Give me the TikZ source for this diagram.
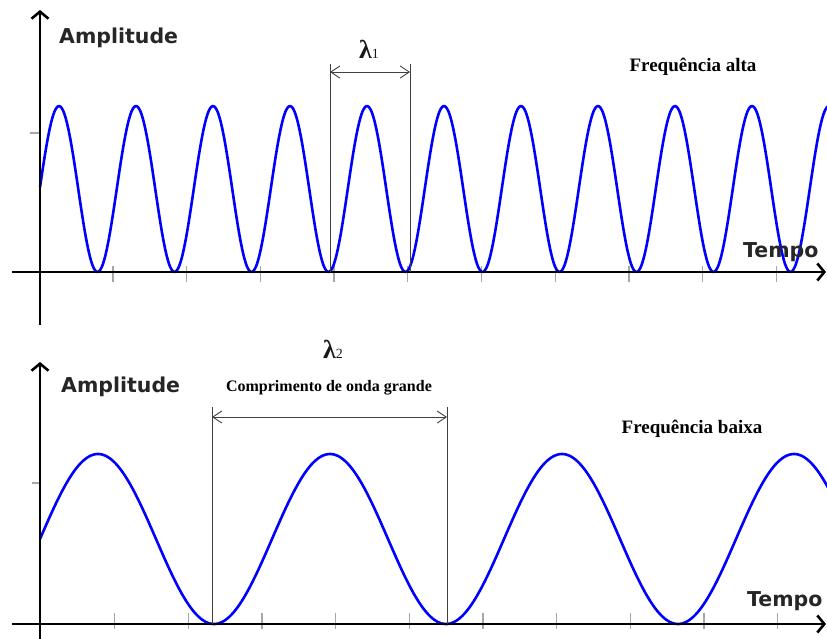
\documentclass[tikz,border=0pt]{standalone}
\usepackage{fontspec}
\setmainfont{Liberation Serif}
\newfontfamily\axisfont{DejaVu Sans}
\usetikzlibrary{arrows.meta}
\begin{document}
\begin{tikzpicture}[x=1pt,y=-1pt,
  axis/.style={line width=2.6pt, black, line cap=butt, -{Straight Barb[length=7pt,width=17pt]}},
  tickmark/.style={black!35, line width=1.3pt},
  wave/.style={blue, line width=2.6pt, line join=round},
  dimline/.style={black!75, line width=0.9pt},
  dimarrow/.style={black!75, line width=0.9pt, {Straight Barb[length=9pt,width=12pt]}-{Straight Barb[length=9pt,width=12pt]}},
  axlabel/.style={font=\axisfont\bfseries\fontsize{20.5}{25}\selectfont, text=black!85, inner sep=0pt, anchor=base west},
  caption/.style={font=\bfseries\fontsize{19}{23}\selectfont, inner sep=0pt, anchor=base},
  captionsmall/.style={font=\bfseries\fontsize{16}{20}\selectfont, inner sep=0pt, anchor=base},
  lambdalabel/.style={font=\fontsize{26}{30}\selectfont, text=black!90, inner sep=0pt, anchor=base}]
\useasboundingbox (0,0) rectangle (827,638);
\clip (0,0) rectangle (827,638);

% ---------------- top graph ----------------
\coordinate (tyb) at (40,325);
\coordinate (tyt) at (40,10);
\coordinate (txl) at (12,272);
\coordinate (txr) at (826,272);
\foreach \i in {0,...,9} {
  \draw[tickmark] ({113+73.7*\i},266) -- ({113+73.7*\i},282);
}
\draw[tickmark] (30,133) -- (40,133);
\draw[wave] plot[domain=40:830, samples=500, smooth] (\x, {189 - 83*cos((\x-59)/77*360)});
\draw[axis] (txl) -- (txr);
\draw[axis] (tyb) -- (tyt);

\node[axlabel] (amp1) at (59,43) {Amplitude};
\node[axlabel] (tempo1) at (743,257) {Tempo};
\node[caption] (fa) at (693,71) {Frequência alta};

\coordinate (l1at) at (330,64);
\coordinate (l1ab) at (330,272);
\coordinate (l1bt) at (410,64);
\coordinate (l1bb) at (410,272);
\coordinate (d1a) at (330,72);
\coordinate (d1b) at (410,72);
\draw[dimline] (l1at) -- (l1ab);
\draw[dimline] (l1bt) -- (l1bb);
\draw[dimarrow] (d1a) -- (d1b);
\node[lambdalabel] (lam1) at (369,58) {{\bfseries λ}{\fontsize{14}{14}\selectfont 1}};

% ---------------- bottom graph ----------------
\coordinate (byb) at (40,640);
\coordinate (byt) at (40,362);
\coordinate (bxl) at (12,624);
\coordinate (bxr) at (826,624);
\foreach \i in {0,...,9} {
  \draw[tickmark] ({114.5+73.7*\i},613) -- ({114.5+73.7*\i},629);
}
\draw[tickmark] (32,483) -- (40,483);
\draw[wave] plot[domain=40:830, samples=500, smooth] (\x, {539 - 85*cos((\x-98)/232*360)});
\draw[axis] (bxl) -- (bxr);
\draw[axis] (byb) -- (byt);

\node[axlabel] (amp2) at (61,392) {Amplitude};
\node[axlabel] (tempo2) at (747,606) {Tempo};
\node[caption] (fb) at (692,433) {Frequência baixa};
\node[captionsmall] (cg) at (329,391) {Comprimento de onda grande};

\coordinate (l2at) at (212,407);
\coordinate (l2ab) at (212,624);
\coordinate (l2bt) at (447,407);
\coordinate (l2bb) at (447,624);
\coordinate (d2a) at (212,417);
\coordinate (d2b) at (447,417);
\draw[dimline] (l2at) -- (l2ab);
\draw[dimline] (l2bt) -- (l2bb);
\draw[dimarrow] (d2a) -- (d2b);
\node[lambdalabel] (lam2) at (333,358) {{\bfseries λ}{\fontsize{14}{14}\selectfont 2}};
\end{tikzpicture}
\end{document}
